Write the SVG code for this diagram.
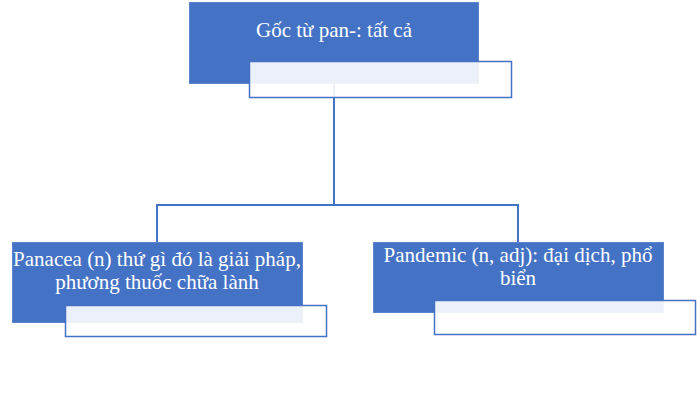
<svg xmlns="http://www.w3.org/2000/svg" width="700" height="407" viewBox="0 0 700 407">
<style>
.blue{fill:#4472C4;stroke:#5B84CC;stroke-width:1}
.sub{fill:#FFFFFF;fill-opacity:0.9;stroke:#4472C4;stroke-width:1.5}
.t{font-family:"Liberation Serif","Times New Roman",serif;font-size:21px;fill:#FFFFFF;text-anchor:middle}
.c{fill:none;stroke:#4472C4;stroke-width:2}
</style>
<rect width="700" height="407" fill="#FFFFFF"/>
<g id="connectors">
<path class="c" d="M334 83 V205 M157 205 H518 M157 204 V242 M518 204 V242"/>
</g>
<g id="root">
<rect class="blue" x="189.5" y="2.5" width="289" height="81"/>
<text class="t" x="334" y="37">Gốc từ pan-: tất cả</text>
<rect class="sub" x="249.5" y="61.5" width="262" height="36"/>
</g>
<g id="panacea">
<rect class="blue" x="12.5" y="242.5" width="290" height="80"/>
<text class="t" x="157" y="266">Panacea (n) thứ gì  đó là giải  pháp,</text>
<text class="t" x="157" y="289">phương thuốc chữa lành</text>
<rect class="sub" x="65.5" y="305.5" width="261" height="31"/>
</g>
<g id="pandemic">
<rect class="blue" x="373.5" y="242.5" width="290" height="70"/>
<text class="t" x="518" y="262">Pandemic (n, adj): đại dịch, phổ</text>
<text class="t" x="518" y="285">biển</text>
<rect class="sub" x="434.5" y="300.5" width="261" height="34"/>
</g>
</svg>
